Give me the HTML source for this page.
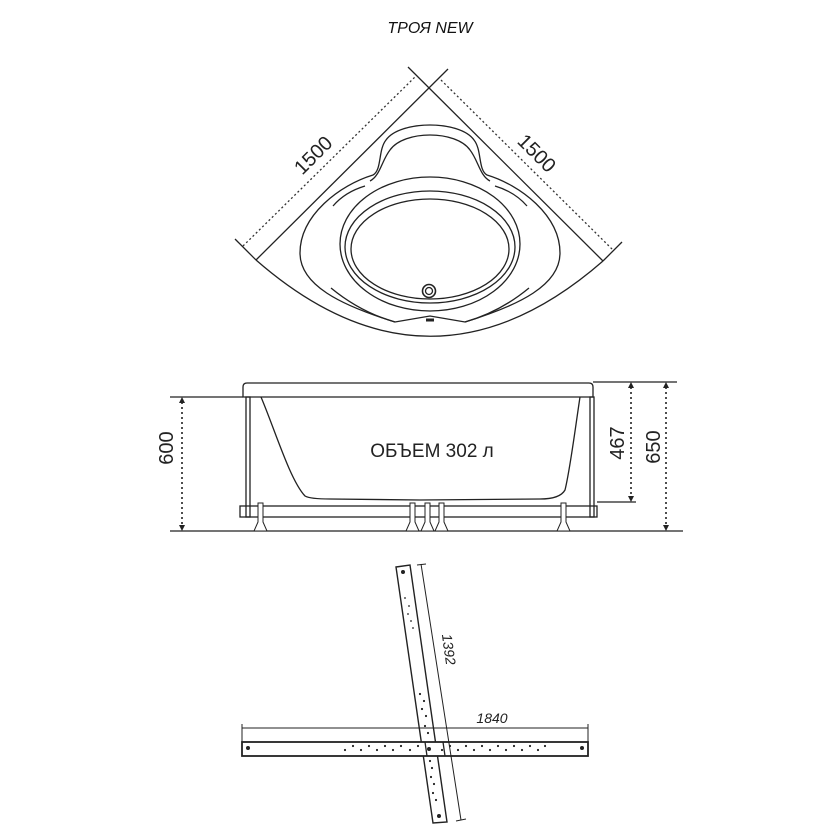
<!DOCTYPE html>
<html><head><meta charset="utf-8"><style>html,body{margin:0;padding:0;background:#fff}svg{display:block}</style></head>
<body>
<svg width="840" height="840" viewBox="0 0 840 840" xmlns="http://www.w3.org/2000/svg" font-family="Liberation Sans, DejaVu Sans, sans-serif">
<text x="430" y="33" text-anchor="middle" font-size="16" font-style="italic" fill="#111">ТРОЯ NEW</text>
<g fill="none" stroke="#222" stroke-width="1.3">
<!-- top view walls -->
<line x1="256" y1="260" x2="448" y2="69"/>
<line x1="408" y1="67" x2="603" y2="261"/>
<line x1="235" y1="239" x2="256" y2="260"/>
<line x1="603" y1="261" x2="622" y2="242"/>
<path d="M256,260 Q430,412 603,261"/>
<!-- rim -->
<path d="M373,175 C382,170 378,150 386,140 C400,120 460,120 474,140 C482,150 478,170 487,175 C520,185 560,215 560,253 C560,285 520,305 465,322 L430,316 L395,322 C340,305 300,285 300,253 C300,215 340,185 373,175 Z"/>
<path d="M370,181 C380,176 382,160 390,150 C404,130 456,130 470,150 C478,160 480,176 490,181"/>
<ellipse cx="430" cy="244" rx="90" ry="67"/>
<ellipse cx="430" cy="247" rx="85" ry="56"/>
<ellipse cx="430" cy="249" rx="79" ry="50"/>
<circle cx="429" cy="291" r="6.5" stroke-width="1.6"/>
<circle cx="429" cy="291" r="3.5"/>
<path d="M333,206 Q345,192 365,186"/>
<path d="M527,206 Q515,192 495,186"/>
<path d="M331,288 Q360,312 395,322"/>
<path d="M529,288 Q500,312 465,322"/>
<line x1="426" y1="320" x2="434" y2="320" stroke-width="3"/>
</g>
<g stroke="#333" stroke-width="1.3" stroke-dasharray="2,2.5" fill="none">
<line x1="243" y1="246" x2="415" y2="77"/>
<line x1="441" y1="80" x2="613" y2="250"/>
</g>
<text font-size="20" fill="#222" transform="translate(318,160) rotate(-45)" text-anchor="middle">1500</text>
<text font-size="20" fill="#222" transform="translate(532,158) rotate(45)" text-anchor="middle">1500</text>
<!-- side view -->
<g fill="none" stroke="#222" stroke-width="1.3">
<path d="M243,397 L243,387 Q243,383 247,383 L589,383 Q593,383 593,387 L593,397 Z"/>
<line x1="170" y1="397" x2="243" y2="397"/>
<line x1="593" y1="382" x2="677" y2="382"/>
<line x1="597" y1="502" x2="636" y2="502"/>
<line x1="170" y1="531" x2="683" y2="531"/>
<rect x="240" y="506" width="357" height="11"/>
<rect x="246" y="397" width="4" height="120"/>
<rect x="590" y="397" width="4" height="120"/>
<path d="M261,397 C275,430 290,480 305,496 Q310,499 330,499 L420,500 L540,499 Q560,499 565,490 C570,470 575,430 580,397"/>
</g>
<g fill="#fff" stroke="#222" stroke-width="1">
<path d="M258,503 h5 v19 l4,9 h-13 l4,-9 z"/>
<path d="M410,503 h5 v19 l4,9 h-13 l4,-9 z"/>
<path d="M425,503 h5 v19 l4,9 h-13 l4,-9 z"/>
<path d="M439,503 h5 v19 l4,9 h-13 l4,-9 z"/>
<path d="M561,503 h5 v19 l4,9 h-13 l4,-9 z"/>
</g>
<g stroke="#222" stroke-width="1.6" stroke-dasharray="2,3" fill="none">
<line x1="182" y1="402" x2="182" y2="527"/>
<line x1="631" y1="387" x2="631" y2="497"/>
<line x1="666" y1="387" x2="666" y2="526"/>
</g>
<g fill="#222">
<path d="M182,397 l-3,6 h6z"/><path d="M182,531 l-3,-6 h6z"/>
<path d="M631,382 l-3,6 h6z"/><path d="M631,502 l-3,-6 h6z"/>
<path d="M666,382 l-3,6 h6z"/><path d="M666,531 l-3,-6 h6z"/>
</g>
<text x="432" y="457" text-anchor="middle" font-size="19" fill="#222">ОБЪЕМ 302 л</text>
<text font-size="20" fill="#222" transform="translate(173,448) rotate(-90)" text-anchor="middle">600</text>
<text font-size="20" fill="#222" transform="translate(624,443) rotate(-90)" text-anchor="middle">467</text>
<text font-size="20" fill="#222" transform="translate(660,447) rotate(-90)" text-anchor="middle">650</text>
<!-- bottom frame -->
<g fill="#fff" stroke="#222" stroke-width="1.4">
<polygon points="396,567 410,565 447,822 433,823"/>
<rect x="242" y="742" width="346" height="14" stroke-width="1.8"/>
</g>
<line x1="425" y1="742" x2="427" y2="756" stroke="#222" stroke-width="1.3"/>
<line x1="443" y1="742" x2="445" y2="756" stroke="#222" stroke-width="1.3"/>
<g stroke="#222" stroke-width="1" fill="none">
<line x1="421" y1="564" x2="461" y2="820"/>
<line x1="417" y1="565" x2="426" y2="564"/>
<line x1="456" y1="821" x2="466" y2="819"/>
<line x1="242" y1="728" x2="588" y2="728"/>
<line x1="242" y1="724" x2="242" y2="742"/>
<line x1="588" y1="724" x2="588" y2="742"/>
</g>
<g fill="#222">
<circle cx="403" cy="572" r="2"/><circle cx="439" cy="816" r="2"/>
<circle cx="248" cy="748" r="2"/><circle cx="582" cy="748" r="2"/><circle cx="429" cy="749" r="2"/>
<circle cx="405" cy="598" r="0.9"/><circle cx="409" cy="606" r="0.9"/><circle cx="408" cy="614" r="0.9"/><circle cx="411" cy="621" r="0.9"/><circle cx="413" cy="628" r="0.9"/>
<circle cx="420" cy="694" r="1.1"/><circle cx="424" cy="701" r="1.1"/><circle cx="422" cy="709" r="1.1"/><circle cx="426" cy="716" r="1.1"/><circle cx="425" cy="726" r="1.1"/><circle cx="428" cy="733" r="1.1"/>
<circle cx="430" cy="761" r="1.1"/><circle cx="432" cy="768" r="1.1"/><circle cx="431" cy="777" r="1.1"/><circle cx="434" cy="784" r="1.1"/><circle cx="433" cy="793" r="1.1"/><circle cx="436" cy="800" r="1.1"/>
<circle cx="345" cy="750" r="1.1"/><circle cx="353" cy="746" r="1.1"/><circle cx="361" cy="750" r="1.1"/><circle cx="369" cy="746" r="1.1"/><circle cx="377" cy="750" r="1.1"/><circle cx="385" cy="746" r="1.1"/><circle cx="393" cy="750" r="1.1"/><circle cx="401" cy="746" r="1.1"/><circle cx="410" cy="750" r="1.1"/><circle cx="418" cy="746" r="1.1"/>
<circle cx="442" cy="750" r="1.1"/><circle cx="450" cy="746" r="1.1"/><circle cx="458" cy="750" r="1.1"/><circle cx="466" cy="746" r="1.1"/><circle cx="474" cy="750" r="1.1"/><circle cx="482" cy="746" r="1.1"/><circle cx="490" cy="750" r="1.1"/><circle cx="498" cy="746" r="1.1"/><circle cx="506" cy="750" r="1.1"/><circle cx="514" cy="746" r="1.1"/><circle cx="522" cy="750" r="1.1"/><circle cx="530" cy="746" r="1.1"/><circle cx="538" cy="750" r="1.1"/><circle cx="545" cy="746" r="1.1"/>
</g>
<text x="492" y="723" text-anchor="middle" font-size="14" font-style="italic" fill="#222">1840</text>
<text font-size="14" font-style="italic" fill="#222" transform="translate(444,650) rotate(82)" text-anchor="middle">1392</text>
</svg>
</body></html>
